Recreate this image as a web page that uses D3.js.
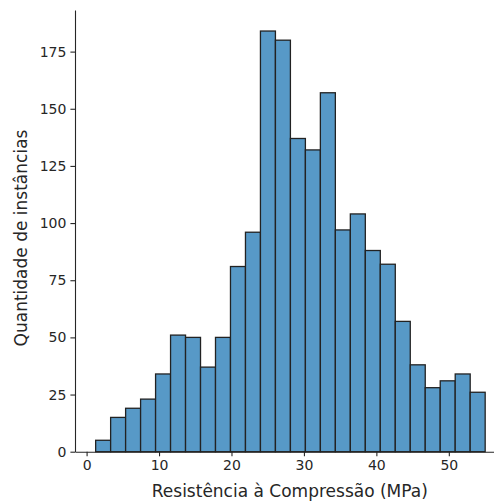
<!DOCTYPE html>
<html>
<head>
<meta charset="utf-8">
<script src="https://cdn.jsdelivr.net/npm/d3@7"></script>
<style>
  html, body { margin: 0; padding: 0; background: #fff; }
  svg { display: block; }
  text { font-family: "DejaVu Sans", sans-serif; fill: #262626; }
</style>
</head>
<body>
<svg id="chart" width="494" height="504"></svg>
<script>
// Data
const binStart = 1.25;
const binWidth = 2.068;
const counts = [5, 15, 19, 23, 34, 51, 50, 37, 50, 81, 96, 184, 180, 137, 132, 157, 97, 104, 88, 82, 57, 38, 28, 31, 34, 26];
const xTicks = [0, 10, 20, 30, 40, 50];
const yTicks = [0, 25, 50, 75, 100, 125, 150, 175];
const xLabel = "Resistência à Compressão (MPa)";
const yLabel = "Quantidade de instâncias";

const bins = counts.map((c, i) => ({ x0: binStart + i * binWidth, x1: binStart + (i + 1) * binWidth, count: c }));

const svg = d3.select("#chart");
const mLeft = 75, mRight = 504.6, mTop = 10, mBottom = 451.7;

const x = d3.scaleLinear().domain([-1.6, 57.7]).range([mLeft, mRight]);
const y = d3.scaleLinear().domain([0, 193.2]).range([mBottom, mTop]);

// bars
svg.append("g").selectAll("rect").data(bins).join("rect")
  .attr("x", d => x(d.x0))
  .attr("y", d => y(d.count))
  .attr("width", d => x(d.x1) - x(d.x0))
  .attr("height", d => y(0) - y(d.count))
  .attr("fill", "#5799c7")
  .attr("stroke", "#222")
  .attr("stroke-width", 1.3);

// axes
const xAxis = d3.axisBottom(x).tickValues(xTicks).tickSize(4.6).tickPadding(3.5).tickSizeOuter(0);
const yAxis = d3.axisLeft(y).tickValues(yTicks).tickSize(4.6).tickPadding(4).tickSizeOuter(0);

const gx = svg.append("g").attr("transform", `translate(0,${mBottom})`).call(xAxis);
const gy = svg.append("g").attr("transform", `translate(${mLeft},0)`).call(yAxis);

[gx, gy].forEach(g => {
  g.select(".domain").attr("stroke", "#262626").attr("stroke-width", 1.1);
  g.selectAll(".tick line").attr("stroke", "#262626").attr("stroke-width", 1.1);
  g.selectAll(".tick text").attr("font-family", "DejaVu Sans").attr("font-size", 14).attr("fill", "#262626");
});

// axis labels
svg.append("text")
  .attr("x", (mLeft + mRight) / 2)
  .attr("y", 496.5)
  .attr("text-anchor", "middle")
  .attr("font-size", 17)
  .text(xLabel);

svg.append("text")
  .attr("transform", `translate(26.5,238) rotate(-90)`)
  .attr("text-anchor", "middle")
  .attr("font-size", 17)
  .text(yLabel);
</script>
</body>
</html>
